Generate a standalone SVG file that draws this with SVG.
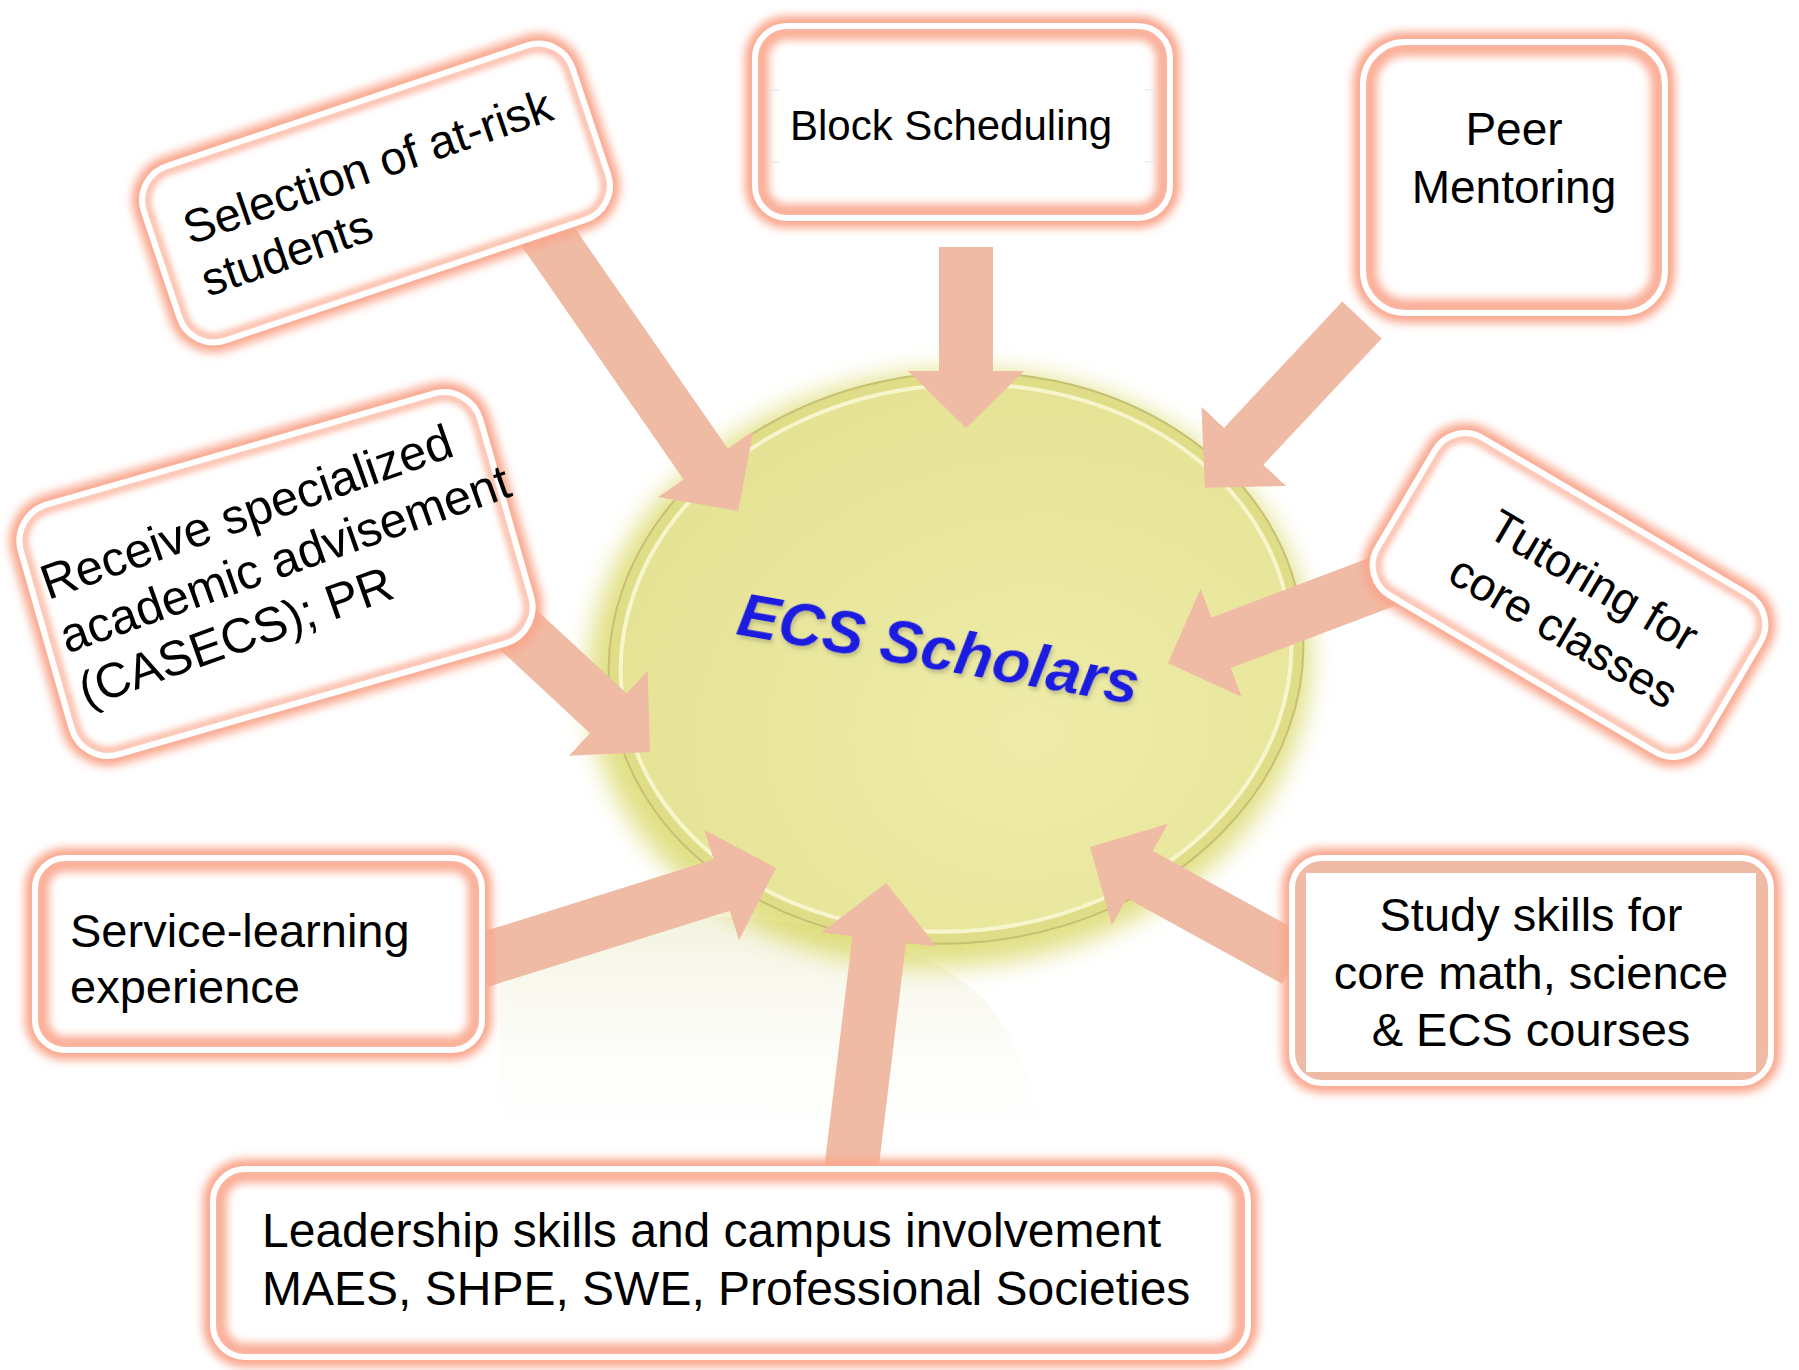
<svg xmlns="http://www.w3.org/2000/svg" width="1799" height="1370" viewBox="0 0 1799 1370">
<style>
.glow{fill:none;stroke:#F9A68C;stroke-width:20;filter:url(#b5)}
.face{fill:#fff}
.band{fill:none;stroke:#FAAE97;stroke-width:16;filter:url(#b4)}
.bandsoft{fill:none;stroke:#FBB9A5;stroke-width:8;filter:url(#b3)}
.ring{fill:none;stroke:#fff;stroke-width:6}
.lbl{font-family:"Liberation Sans",Arial,sans-serif;fill:#000}
</style>
<defs>
<filter id="b5" x="-20%" y="-30%" width="140%" height="160%"><feGaussianBlur stdDeviation="5"/></filter>
<filter id="b4" x="-20%" y="-30%" width="140%" height="160%"><feGaussianBlur stdDeviation="4"/></filter>
<filter id="b3" x="-20%" y="-30%" width="140%" height="160%"><feGaussianBlur stdDeviation="3"/></filter>
<filter id="eglow" x="-30%" y="-30%" width="160%" height="160%"><feGaussianBlur stdDeviation="12"/></filter>
<filter id="tshadow" x="-10%" y="-30%" width="120%" height="160%"><feDropShadow dx="2" dy="3" stdDeviation="2" flood-color="#8a8a60" flood-opacity="0.45"/></filter>
<radialGradient id="faceg" cx="0.6" cy="0.65" r="0.7">
<stop offset="0" stop-color="#eeeca8"/>
<stop offset="1" stop-color="#e5e294"/>
</radialGradient>
<linearGradient id="ghost" x1="0" y1="0" x2="0" y2="1">
<stop offset="0" stop-color="#eeeed4" stop-opacity="0.7"/>
<stop offset="1" stop-color="#ffffff" stop-opacity="0"/>
</linearGradient>
<marker id="head" markerUnits="userSpaceOnUse" markerWidth="60" markerHeight="120" viewBox="0 0 60 120" refX="2" refY="58" orient="auto">
<path d="M0,0 L57,58 L0,116 Z" fill="#F0BBA5" stroke="none"/>
</marker>
</defs>
<rect width="1799" height="1370" fill="#fff"/>

<path d="M500,930 C700,900 900,915 985,1000 C1025,1050 1042,1110 1050,1170 L500,1170 Z" fill="url(#ghost)"/>

<g id="center">
<g transform="rotate(-6 956 658)">
<ellipse cx="948" cy="668" rx="362" ry="298" fill="#d8d65c" opacity="0.75" filter="url(#eglow)"/>
<ellipse cx="956" cy="658" rx="348" ry="285" fill="#e0dd88" stroke="#c6c172" stroke-width="2"/>
<ellipse cx="956" cy="658" rx="336" ry="273" fill="url(#faceg)" stroke="#f7f5cc" stroke-width="4"/>
</g>
<text transform="translate(735,634) rotate(10)" font-family="Liberation Sans, Arial, sans-serif" font-weight="bold" font-style="italic" font-size="62" fill="#1b1be0" filter="url(#tshadow)">ECS Scholars</text>
</g>

<g id="connectors" stroke="#F0BBA5" stroke-width="54" marker-end="url(#head)">
<line x1="535" y1="218" x2="706.8" y2="465.7"/>
<line x1="966" y1="247" x2="966" y2="373"/>
<line x1="1362" y1="320" x2="1242.4" y2="447.7"/>
<line x1="470" y1="585" x2="609.7" y2="714.6"/>
<line x1="1400" y1="575" x2="1219.4" y2="643.5"/>
<line x1="480" y1="961" x2="723.5" y2="884.4"/>
<line x1="850" y1="1180" x2="879.4" y2="937.6"/>
<line x1="1295" y1="960" x2="1138.2" y2="873.6"/>
</g>

<g id="n1">
<g transform="translate(376,193) rotate(-18.5)">
<rect class="glow" x="-226" y="-92" width="452" height="184" rx="36"/>
<rect class="face" x="-226" y="-92" width="452" height="184" rx="36"/>
<rect class="bandsoft" x="-221" y="-87" width="442" height="174" rx="31"/>
<rect class="ring" x="-226" y="-92" width="452" height="184" rx="36"/>
</g>
<text class="lbl" font-size="47" transform="translate(190,245) rotate(-19)"><tspan x="0" y="0">Selection of at-risk</tspan><tspan x="0" y="55">students</tspan></text>
</g>

<g id="n2">
<rect class="glow" x="755" y="26" width="415" height="192" rx="32"/>
<rect class="face" x="755" y="26" width="415" height="192" rx="32"/>
<rect class="band" x="761" y="32" width="403" height="180" rx="26"/>
<rect class="ring" x="755" y="26" width="415" height="192" rx="32"/>
<path d="M780,90 H770 V162 H780 M1145,90 H1155 V162 H1145" fill="none" stroke="#e2e2e2" stroke-width="1"/>
<text class="lbl" font-size="42" x="790" y="140">Block Scheduling</text>
</g>

<g id="n3">
<rect class="glow" x="1363" y="42" width="302" height="271" rx="42"/>
<rect class="face" x="1363" y="42" width="302" height="271" rx="42"/>
<rect class="band" x="1369" y="48" width="290" height="259" rx="36"/>
<rect class="ring" x="1363" y="42" width="302" height="271" rx="42"/>
<text class="lbl" font-size="46" text-anchor="middle"><tspan x="1514" y="145">Peer</tspan><tspan x="1514" y="203">Mentoring</tspan></text>
</g>

<g id="n4">
<g transform="translate(276,574) rotate(-16)">
<rect class="glow" x="-239" y="-130" width="478" height="260" rx="38"/>
<rect class="face" x="-239" y="-130" width="478" height="260" rx="38"/>
<rect class="bandsoft" x="-234" y="-125" width="468" height="250" rx="33"/>
<rect class="ring" x="-239" y="-130" width="478" height="260" rx="38"/>
</g>
<text class="lbl" font-size="49" transform="translate(48,600) rotate(-19.5)"><tspan x="0" y="0">Receive specialized</tspan><tspan x="0" y="57">academic advisement</tspan><tspan x="0" y="114">(CASECS); PR</tspan></text>
</g>

<g id="n6">
<g transform="translate(1569,595) rotate(30.5)">
<rect class="glow" x="-189" y="-91.5" width="378" height="183" rx="35"/>
<rect class="face" x="-189" y="-91.5" width="378" height="183" rx="35"/>
<rect class="bandsoft" x="-184" y="-86.5" width="368" height="173" rx="30"/>
<rect class="ring" x="-189" y="-91.5" width="378" height="183" rx="35"/>
<text class="lbl" font-size="46" text-anchor="middle"><tspan x="14" y="-9">Tutoring for</tspan><tspan x="14" y="50">core classes</tspan></text>
</g>
</g>

<g id="n7">
<rect class="glow" x="35" y="858" width="447" height="192" rx="30"/>
<rect class="face" x="35" y="858" width="447" height="192" rx="30"/>
<rect class="band" x="41" y="864" width="435" height="180" rx="24"/>
<rect class="ring" x="35" y="858" width="447" height="192" rx="30"/>
<text class="lbl" font-size="47"><tspan x="70" y="947">Service-learning</tspan><tspan x="70" y="1003">experience</tspan></text>
</g>

<g id="n8">
<rect class="glow" x="1292" y="858" width="479" height="225" rx="30"/>
<rect x="1292" y="858" width="479" height="225" rx="30" fill="#F0BBA5"/>
<rect x="1306" y="873" width="450" height="199" fill="#fff"/>
<rect class="ring" x="1292" y="858" width="479" height="225" rx="30"/>
<text class="lbl" font-size="47" text-anchor="middle"><tspan x="1531" y="931">Study skills for</tspan><tspan x="1531" y="989">core math, science</tspan><tspan x="1531" y="1046">&amp; ECS courses</tspan></text>
</g>

<g id="n9">
<rect class="glow" x="213" y="1169" width="1035" height="188" rx="32"/>
<rect class="face" x="213" y="1169" width="1035" height="188" rx="32"/>
<rect class="band" x="219" y="1175" width="1023" height="176" rx="26"/>
<rect class="ring" x="213" y="1169" width="1035" height="188" rx="32"/>
<text class="lbl" font-size="48"><tspan x="262" y="1247">Leadership skills and campus involvement</tspan><tspan x="262" y="1305">MAES, SHPE, SWE, Professional Societies</tspan></text>
</g>
</svg>
